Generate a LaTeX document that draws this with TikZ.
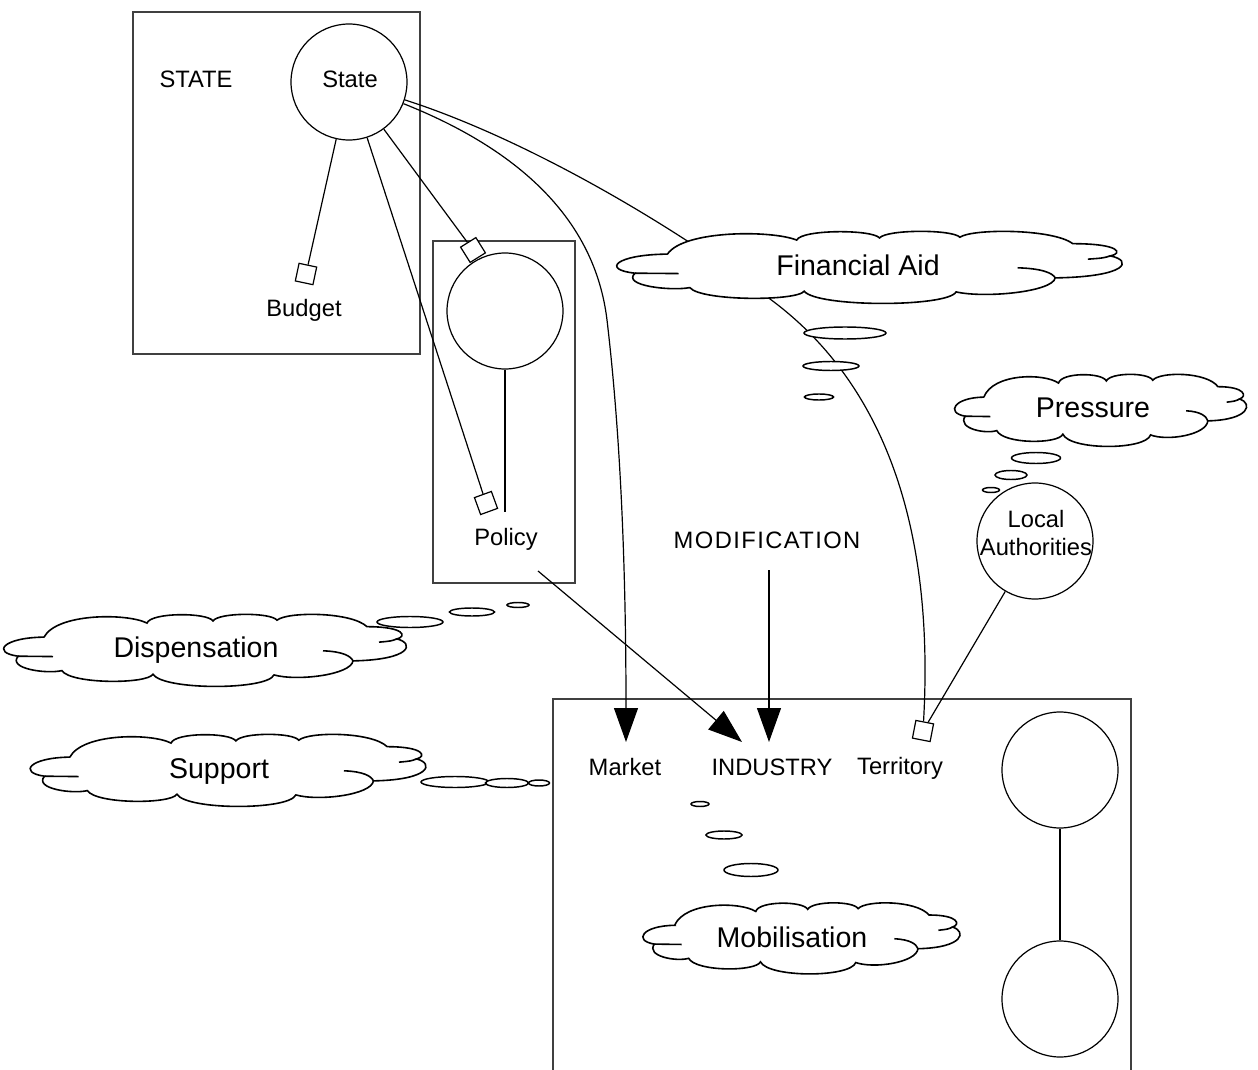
\documentclass[tikz,border=0pt]{standalone}
\usepackage{fontspec}
\setmainfont{Liberation Sans}
\usetikzlibrary{arrows.meta,shapes.geometric}
\newcommand{\mycloud}[4]{%
 \begin{scope}[shift={(#1,#2)},xscale=#3/2,yscale=#4/2]
  \draw[cloudline,fill=white] (-0.815,-0.33) .. controls (-0.75,-1.0) and (-0.40,-1.0) .. (-0.30,-0.72)
   .. controls (-0.28,-1.02) and (0.0,-1.02) .. (0.03,-0.78)
   .. controls (0.06,-1.02) and (0.32,-1.02) .. (0.35,-0.80)
   .. controls (0.40,-1.04) and (0.72,-1.04) .. (0.80,-0.62)
   .. controls (0.99,-0.62) and (1.0,-0.35) .. (0.95,-0.28)
   .. controls (1.04,-0.15) and (1.02,0.30) .. (0.73,0.33)
   .. controls (0.72,0.72) and (0.45,0.9) .. (0.335,0.72)
   .. controls (0.30,1.15) and (-0.22,1.15) .. (-0.27,0.70)
   .. controls (-0.30,0.98) and (-0.68,0.98) .. (-0.726,0.60)
   .. controls (-0.80,0.70) and (-1.0,0.55) .. (-0.944,0.20)
   .. controls (-1.08,0.10) and (-1.02,-0.32) .. cycle;
  \draw[cloudline] (0.95,-0.28) .. controls (0.92,-0.22) .. (0.86,-0.19);
  \draw[cloudline] (-0.944,0.20) .. controls (-0.86,0.22) .. (-0.77,0.21);
  \draw[cloudline] (0.58,0.05) .. controls (0.68,0.07) and (0.72,0.2) .. (0.73,0.33);
 \end{scope}}
\begin{document}
\begin{tikzpicture}[x=0.75pt,y=-0.75pt,
  frame/.style={draw=black!75,line width=1.1pt},
  circ/.style={circle,draw,line width=0.9pt,fill=white,minimum size=87pt,inner sep=0pt},
  sqr/.style={draw,line width=0.9pt,fill=white,minimum size=13.5pt,inner sep=0pt},
  lbl/.style={font=\fontsize{17.8}{21}\selectfont,inner sep=1pt},
  biglbl/.style={font=\fontsize{21.4}{24}\selectfont,inner sep=1pt},
  conn/.style={line width=0.9pt},
  arr/.style={line width=0.9pt,-{Triangle[length=25.5pt,width=18pt]}},
  bub/.style 2 args={ellipse,draw,fill=white,line width=1.1pt,inner sep=0pt,minimum width=#1*0.75pt,minimum height=#2*0.75pt},
  cloudline/.style={line width=1.2pt}
]
\useasboundingbox (0,0) rectangle (1258,1070);
% frames
\draw[frame] (133,12) rectangle (420,354);
\draw[frame] (433,241) rectangle (575,583);
\draw[frame] (553,1085) -- (553,699) -- (1131,699) -- (1131,1085);

% nodes
\node[circ] (state) at (349,82) {};
\node[lbl] (statelbl) at (350,79) {State};
\node[lbl] (stateT) at (196,79) {STATE};
\node[sqr,rotate=-12] (budgetsq) at (306,274) {};
\node[lbl] (budget) at (304,310) {Budget};
\node[circ] (polc) at (505,311) {};
\node[sqr,rotate=32] (polsqA) at (473,250) {};
\node[sqr,rotate=20] (polsqB) at (486,503) {};
\coordinate (polend) at (505,512);
\node[lbl] (policy) at (506,539) {Policy};
\node[lbl] (modif) at (767,540) {\addfontfeature{LetterSpace=6}MODIFICATION};
\node[lbl] (market) at (625,767) {Market};
\node[lbl] (industry) at (772,767) {INDUSTRY};
\node[lbl] (territory) at (900,768) {Territory};
\node[sqr,rotate=-11] (terrsq) at (923,731) {};
\node[circ] (local) at (1035,541) {};
\node[lbl,align=center] (locallbl) at (1036,533) {Local\\Authorities};
\node[circ] (indA) at (1060,770) {};
\node[circ] (indB) at (1060,999) {};

\coordinate (marketTip) at (626,742);
\coordinate (indTipA) at (742,742);
\coordinate (indTipB) at (769,742);
\coordinate (modStart) at (769,570);
\coordinate (polStart) at (538,571);

% connectors
\draw[conn] (state) -- (budgetsq);
\draw[conn] (state) -- (polsqA);
\draw[conn] (state) -- (polsqB);
\draw[conn] (polc) -- (polend);
\draw[arr] (polStart) -- (indTipA);
\draw[arr] (modStart) -- (indTipB);
\draw[arr] (state) .. controls (520,150) and (595,220) .. (607,320) .. controls (620,430) and (626,560) .. (marketTip);
\draw[conn] (state) .. controls (530,140) and (680,230) .. (770,299) .. controls (880,380) and (935,520) .. (terrsq);
\draw[conn] (local) -- (terrsq);
\draw[conn] (indA) -- (indB);

% clouds
\mycloud{872}{266}{502}{72}
\node[biglbl] (finaid) at (858,265) {Financial Aid};
\node[bub={82}{12}] (fa1) at (845,333) {};
\node[bub={56}{9}] (fa2) at (831,366) {};
\node[bub={29}{6}] (fa3) at (819,397) {};

\mycloud{1102}{409}{290}{72}
\node[biglbl] (pressure) at (1093,408) {Pressure};
\node[bub={49}{11}] (pr1) at (1036,458) {};
\node[bub={32}{9}] (pr2) at (1011,475) {};
\node[bub={17}{5}] (pr3) at (991,490) {};

\mycloud{207}{649}{400}{72}
\node[biglbl] (disp) at (196,650) {Dispensation};
\node[bub={66}{11}] (di1) at (410,622) {};
\node[bub={45}{8}] (di2) at (472,612) {};
\node[bub={22}{5}] (di3) at (518,605) {};

\mycloud{230}{769}{393}{72}
\node[biglbl] (support) at (219,771) {Support};
\node[bub={68}{11}] (su1) at (455,782) {};
\node[bub={43}{9}] (su2) at (507,783) {};
\node[bub={21}{6}] (su3) at (539,783) {};

\mycloud{803}{937}{315}{71}
\node[biglbl] (mobil) at (792,937) {Mobilisation};
\node[bub={18}{5}] (mo1) at (700,804) {};
\node[bub={36}{8}] (mo2) at (724,835) {};
\node[bub={54}{13}] (mo3) at (751,870) {};
\end{tikzpicture}
\end{document}
